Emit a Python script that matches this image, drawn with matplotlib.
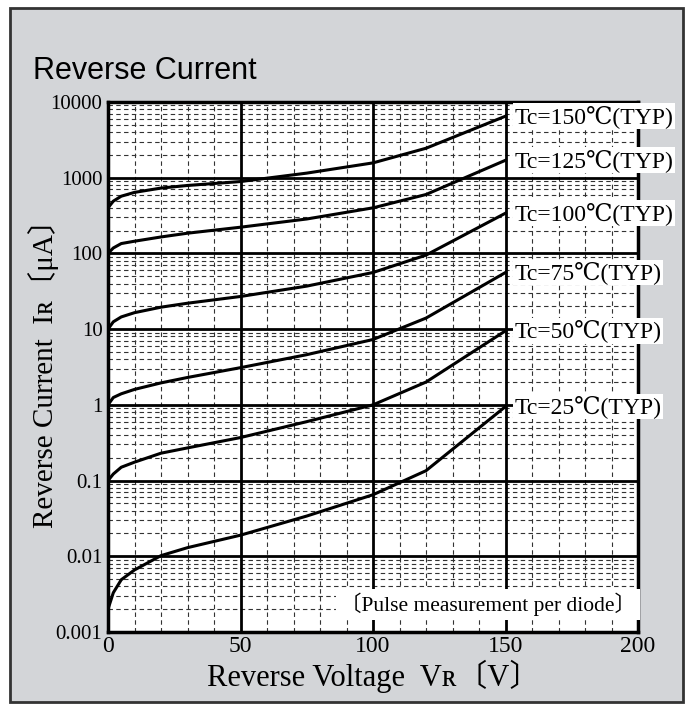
import matplotlib.pyplot as plt
import matplotlib.patches as mpatches
from matplotlib.ticker import FixedLocator, NullFormatter

# Reverse voltage points (V)
vr = [0, 2, 5, 10, 20, 30, 50, 75, 100, 120, 150]

# Reverse current (uA) for each case temperature
ir_150 = [400, 490, 570, 640, 730, 790, 890, 1150, 1570, 2450, 6500]
ir_125 = [100, 118, 135, 145, 165, 185, 222, 285, 400, 600, 1700]
ir_100 = [10, 12.5, 14.5, 16.5, 19.5, 22, 27, 37, 56, 95, 340]
ir_75 = [1, 1.25, 1.4, 1.6, 1.95, 2.3, 3.1, 4.6, 7.3, 14, 56]
ir_50 = [0.1, 0.122, 0.15, 0.175, 0.23, 0.27, 0.37, 0.6, 1.0, 2.0, 9.5]
ir_25 = [0.002, 0.0033, 0.0049, 0.0066, 0.0102, 0.013, 0.019, 0.034, 0.065, 0.135, 0.95]

labels = ['Tc=150℃(TYP)', 'Tc=125℃(TYP)', 'Tc=100℃(TYP)',
          'Tc=75℃(TYP)', 'Tc=50℃(TYP)', 'Tc=25℃(TYP)']
curves = [ir_150, ir_125, ir_100, ir_75, ir_50, ir_25]

y_ticks = [0.001, 0.01, 0.1, 1, 10, 100, 1000, 10000]
y_ticklabels = ['0.001', '0.01', '0.1', '1', '10', '100', '1000', '10000']
x_ticks = [0, 50, 100, 150, 200]

serif = ['Liberation Serif', 'DejaVu Serif', 'Noto Sans CJK JP']

fig = plt.figure(figsize=(6.92, 7.04), dpi=100)

# grey panel with dark border
panel = mpatches.Rectangle((10 / 692, 2 / 704), 673 / 692, 694 / 704,
                           transform=fig.transFigure, facecolor='#d3d5d8',
                           edgecolor='#333333', linewidth=2, zorder=-10)
fig.patches.append(panel)

ax = fig.add_axes([108 / 692, 72 / 704, 530 / 692, 530 / 704])
ax.set_facecolor('white')
ax.set_yscale('log')
ax.set_xlim(0, 200)
ax.set_ylim(0.001, 10000)

# grid
for v in range(10, 200, 10):
    if v % 50 == 0:
        ax.axvline(v, color='black', lw=2.0, zorder=2)
    else:
        ax.axvline(v, color='#333333', lw=0.8, ls=(0, (4, 3)), zorder=1)
for d in y_ticks[:-1]:
    for m in range(2, 10):
        ax.axhline(d * m, color='#333333', lw=0.8, ls=(0, (4, 3)), zorder=1)
    if d > 0.001:
        ax.axhline(d, color='black', lw=2.0, zorder=2)

for ir in curves:
    ax.plot(vr, ir, color='black', lw=2.2, zorder=3)

for lab, ir in zip(labels, curves):
    ax.text(153.5, ir[-1], lab, ha='left', va='center', fontsize=17,
            family=serif, clip_on=False, zorder=5,
            bbox=dict(facecolor='white', edgecolor='none', pad=1.0))

ax.text(143.5, 0.0023, '〔Pulse measurement per diode〕', ha='center', va='center',
        fontsize=15.5, family=serif, zorder=5,
        bbox=dict(facecolor='white', edgecolor='none', pad=3))

ax.yaxis.set_major_locator(FixedLocator(y_ticks))
ax.set_yticklabels(y_ticklabels, family=serif, fontsize=15)
ax.yaxis.set_minor_formatter(NullFormatter())
ax.set_xticks(x_ticks)
ax.set_xticklabels([str(t) for t in x_ticks], family=serif, fontsize=17)
ax.tick_params(which='both', length=0)
ax.tick_params(axis='y', pad=4)
ax.tick_params(axis='x', pad=3)

for s in ax.spines.values():
    s.set_linewidth(2.5)
    s.set_zorder(4)

ax.set_xlabel('Reverse Voltage  Vʀ〔V〕', family=serif, fontsize=22, labelpad=2)
ax.set_ylabel('Reverse Current  Iʀ〔μA〕', family=serif, fontsize=21, labelpad=-6)

fig.text(33 / 692, 1 - 71 / 704, 'Reverse Current', family='Liberation Sans',
         fontsize=22, ha='left', va='center')

fig.savefig('out.png', dpi=100)
